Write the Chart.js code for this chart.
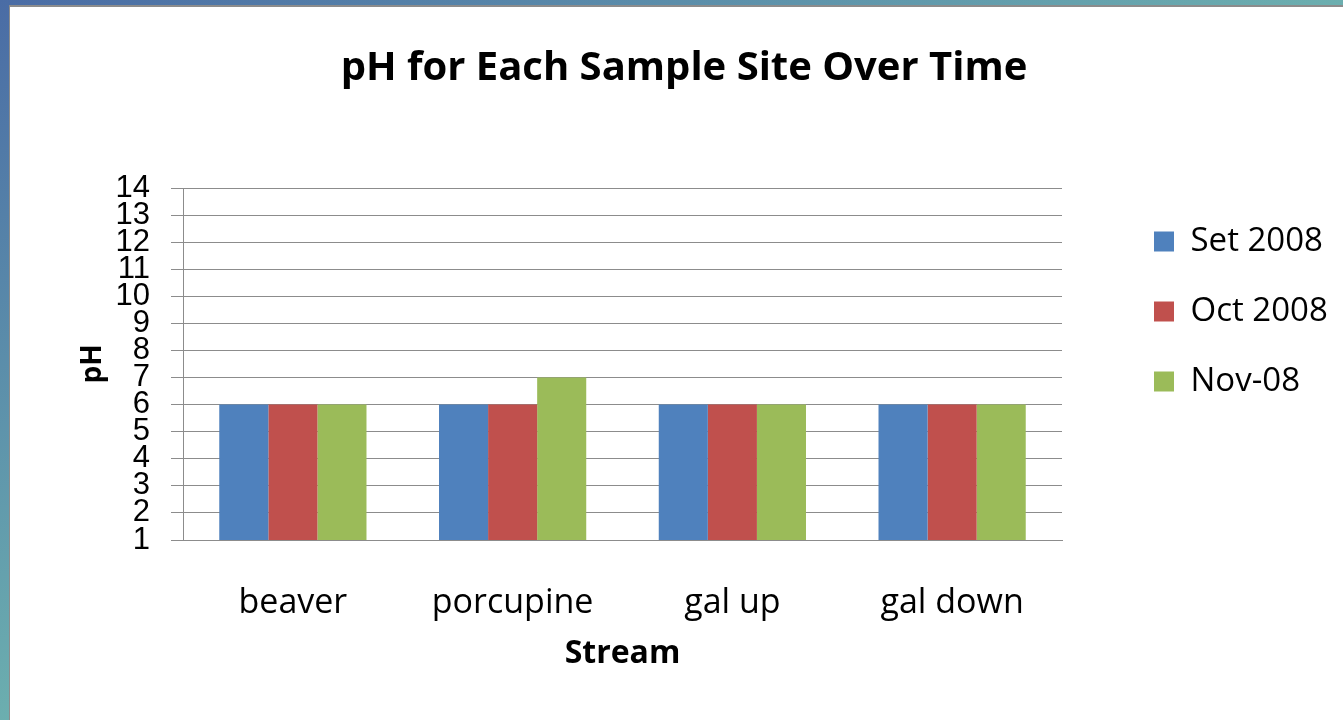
<!DOCTYPE html>
<html>
<head>
<meta charset="utf-8">
<script src="https://cdn.jsdelivr.net/npm/chart.js@4"></script>
<style>
  html, body { margin: 0; padding: 0; width: 1343px; height: 720px; overflow: hidden; }
  body { background: linear-gradient(to bottom right, #4a6ca5 0%, #6fb5b0 55%, #82d8c0 100%); position: relative; }
  #panel { position: absolute; left: 9px; top: 5px; right: 0; bottom: 0; background: #fff;
           border-left: 1px solid #8c8c8c; border-top: 2px solid #8c8c8c; }
  #wrap { position: absolute; left: 0; top: 0; width: 1343px; height: 720px; }
</style>
</head>
<body>
<div id="panel"></div>
<div id="wrap"><canvas id="phChart" width="1343" height="720"></canvas></div>
<script>
// datos
const sitios = ['beaver', 'porcupine', 'gal up', 'gal down'];
const series = ['Set 2008', 'Oct 2008', 'Nov-08'];
const set2008 = [6, 6, 6, 6];
const oct2008 = [6, 6, 6, 6];
const nov08 = [6, 7, 6, 6];
const colores = ['#4f81bd', '#c0504d', '#9bbb59'];
const yMin = 1, yMax = 14;

const gris = '#8c8c8c';

const ctx = document.getElementById('phChart').getContext('2d');

window.myChart = new Chart(ctx, {
    type: 'bar',
    data: {
        labels: sitios,
        datasets: [set2008, oct2008, nov08].map((valores, i) => ({
            label: series[i],
            data: valores,
            backgroundColor: colores[i],
            borderWidth: 0,
            categoryPercentage: 0.67,
            barPercentage: 1.0
        }))
    },
    options: {
        responsive: false,
        animation: false,
        layout: { padding: { left: 35, right: 10, top: 0, bottom: 0 } },
        plugins: {
            title: {
                display: true,
                text: 'pH for Each Sample Site Over Time',
                color: '#000',
                font: { family: 'Open Sans', size: 40, weight: 'bold' },
                padding: { top: 45, bottom: 95 }
            },
            legend: {
                position: 'right',
                align: 'start',
                fullSize: false,
                maxWidth: 216,
                labels: {
                    color: '#000',
                    font: { family: 'Open Sans', size: 33 },
                    boxWidth: 20,
                    boxHeight: 20,
                    padding: 37
                }
            },
            tooltip: { enabled: false }
        },
        scales: {
            x: {
                grid: { display: false },
                border: { display: true, color: gris, width: 1 },
                ticks: {
                    color: '#000',
                    font: { family: 'Open Sans', size: 34 },
                    padding: 35,
                    maxRotation: 0
                },
                title: {
                    display: true,
                    text: 'Stream',
                    color: '#000',
                    font: { family: 'Open Sans', size: 32, weight: 'bold' },
                    padding: { top: 0, bottom: 47 }
                },
                afterFit: s => { s.height = 180; }
            },
            y: {
                min: yMin,
                max: yMax,
                grid: { color: gris, lineWidth: 1, tickLength: 12 },
                border: { display: true, color: gris, width: 1 },
                ticks: {
                    stepSize: 1,
                    autoSkip: false,
                    color: '#000',
                    font: { family: 'Liberation Sans', size: 31 },
                    padding: 21
                },
                title: {
                    display: true,
                    text: 'pH',
                    color: '#000',
                    font: { family: 'Open Sans', size: 28, weight: 'bold' },
                    padding: { top: 41, bottom: 0 }
                },
                afterFit: s => { s.width = 148; }
            },
            // espacio vacio entre el area del grafico y la leyenda
            hueco: {
                position: 'right',
                display: true,
                grid: { display: false },
                border: { display: false },
                ticks: { display: false },
                afterFit: s => { s.width = 55; }
            }
        }
    }
});
</script>
</body>
</html>
